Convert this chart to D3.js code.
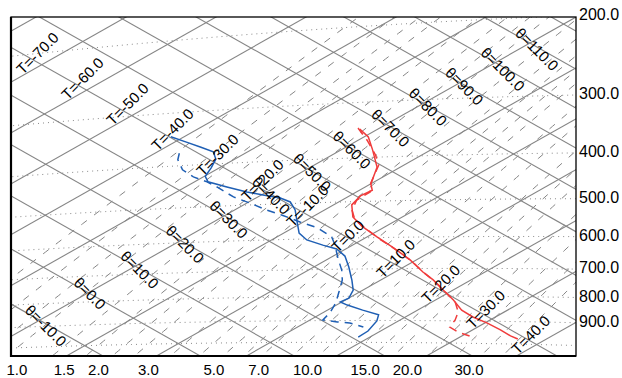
<!DOCTYPE html>
<html>
<head>
<meta charset="utf-8">
<script src="https://cdn.jsdelivr.net/npm/d3@7"></script>
<style>
  body { margin: 0; background: #fff; }
  svg { display: block; }
  text { font-family: "Liberation Sans", Arial, Helvetica, sans-serif; }
</style>
</head>
<body>
<script>
// sounding data (pressure hPa, temperature degC)
const tempP = [345, 360, 385, 421, 458, 473, 486, 508, 540, 566, 598, 632, 671, 712, 740, 777, 815, 855, 883, 908, 937, 963, 976];
const tempT = [-22.0, -19.5, -16.5, -12.6, -10.0, -8.6, -8.8, -8.0, -5.5, -2.7, 1.1, 5.1, 9.3, 13.1, 15.8, 18.9, 22.0, 24.9, 27.5, 30.3, 33.1, 35.4, 36.8];
const dewP = [341, 353, 364, 375, 390, 408, 426, 439, 453, 467, 476, 485, 496, 517, 550, 582, 603, 620, 633, 656, 693, 739, 776, 807, 822, 835, 856, 876, 902, 947, 975];
const dewT = [-41.5, -38.7, -36.2, -33.8, -32.1, -30.9, -29.9, -28.5, -25.4, -22.2, -19.8, -17.3, -15.4, -13.3, -10.7, -8.3, -6.1, -3.3, -1.0, 1.3, 3.9, 6.8, 8.9, 10.0, 9.8, 11.2, 13.9, 16.6, 17.6, 18.6, 18.7];
const temp2P = [343, 366, 396, 417, 457, 477, 496, 521, 548, 571, 601, 636, 675, 716, 747, 784, 823, 863, 896, 927, 949, 975];
const temp2T = [-22.4, -19.0, -15.1, -12.8, -10.1, -8.5, -8.4, -7.0, -4.7, -2.0, 1.4, 5.5, 9.7, 13.5, 16.4, 19.5, 22.6, 24.9, 26.1, 26.9, 28.8, 31.9];
const dew2P = [374, 387, 409, 426, 439, 452, 478, 495, 515, 530, 550, 568, 596, 620, 662, 703, 738, 783, 826, 867, 897, 906, 911, 929];
const dew2T = [-37.3, -36.2, -33.7, -31.1, -28.6, -26.5, -22.7, -19.7, -16.4, -13.7, -10.4, -7.3, -3.9, -2.0, 0.9, 3.7, 5.7, 7.7, 9.5, 10.8, 11.4, 13.4, 15.0, 17.3];

// diagram lines
const isotherms = [-100, -90, -80, -70, -60, -50, -40, -30, -20, -10, 0, 10, 20, 30, 40, 50, 60];
const adiabats = [-40, -30, -20, -10, 0, 10, 20, 30, 40, 50, 60, 70, 80, 90, 100, 110, 120, 130, 140, 150, 160];
const isobars = [200, 300, 400, 500, 600, 700, 800, 900, 1000];
const mixingRatios = [0.4, 0.6, 0.8, 1.0, 1.5, 2.0, 2.5, 3.0, 4.0, 5.0, 6.0, 7.0, 8.0, 10.0, 12.0, 15.0, 17.5, 20.0, 25.0, 30.0, 35.0, 40.0];

// labels
const mixingLabels = [1.0, 1.5, 2.0, 3.0, 5.0, 7.0, 10.0, 15.0, 20.0, 30.0];
const pressureLabels = [200, 300, 400, 500, 600, 700, 800, 900];
const tempLabels = [-70, -60, -50, -40, -30, -20, -10, 0, 10, 20, 30, 40];
const thetaLabels = [-10, 0, 10, 20, 30, 40, 50, 60, 70, 80, 90, 100, 110];

const W = 622, H = 378;
const box = { left: 11, top: 17, right: 576, bottom: 356 };

const K = 290, KAPPA = 0.2808, ZERO = 273.15;
const entropy = (th) => K * Math.log(th + ZERO);
const thetaOf = (t, p) => (t + ZERO) * Math.pow(1000 / p, KAPPA) - ZERO;
const dewOf = (w, p) => {
  const e = (p * w) / 622;
  const l = Math.log(e / 6.112);
  return (243.5 * l) / (17.67 - l);
};

// rotated tephigram axes: u = T + s, v = T - s
const x = d3.scaleLinear().domain([1589.71, 1715.27]).range([box.left, box.right]);
const y = d3.scaleLinear().domain([-1755.28, -1622.03]).range([box.top, box.bottom]);
const projTh = (t, th) => [x(t + entropy(th)), y(t - entropy(th))];
const projP = (t, p) => projTh(t, thetaOf(t, p));

const svg = d3.select("body").append("svg").attr("width", W).attr("height", H);

svg.append("clipPath").attr("id", "plot")
  .append("rect")
  .attr("x", box.left).attr("y", box.top)
  .attr("width", box.right - box.left).attr("height", box.bottom - box.top);

const grid = svg.append("g").attr("clip-path", "url(#plot)");
const line = d3.line();

// isobars (dotted)
isobars.forEach((p) => {
  const pts = d3.range(-130, 70, 1).map((t) => projP(t, p));
  grid.append("path").attr("d", line(pts))
    .attr("fill", "none").attr("stroke", "#8a8a8a").attr("stroke-width", 1)
    .attr("stroke-dasharray", "1,4");
});

// mixing ratio lines (dashed)
mixingRatios.forEach((w) => {
  const pts = d3.range(1100, 140, -10).map((p) => projP(dewOf(w, p), p));
  grid.append("path").attr("d", line(pts))
    .attr("fill", "none").attr("stroke", "#858585").attr("stroke-width", 1)
    .attr("stroke-dasharray", "7,9");
});

// isotherms
isotherms.forEach((t) => {
  const a = projTh(t, -90), b = projTh(t, 220);
  grid.append("line").attr("x1", a[0]).attr("y1", a[1]).attr("x2", b[0]).attr("y2", b[1])
    .attr("stroke", "#858585").attr("stroke-width", 1.1);
});

// dry adiabats
adiabats.forEach((th) => {
  const a = projTh(-160, th), b = projTh(80, th);
  grid.append("line").attr("x1", a[0]).attr("y1", a[1]).attr("x2", b[0]).attr("y2", b[1])
    .attr("stroke", "#858585").attr("stroke-width", 1.1);
});

// soundings
const curve = (ps, ts, color, dash) => {
  const pts = ps.map((p, i) => projP(ts[i], p));
  grid.append("path").attr("d", line(pts))
    .attr("fill", "none").attr("stroke", color).attr("stroke-width", 1.5)
    .attr("stroke-dasharray", dash);
};
curve(temp2P, temp2T, "#f03c3c", "8,6");
curve(dew2P, dew2T, "#1f5fb4", "8,6");
curve(tempP, tempT, "#f03c3c", null);
curve(dewP, dewT, "#1f5fb4", null);

// labels on lines
const lab = svg.append("g").attr("clip-path", "url(#plot)")
  .attr("font-size", 15).attr("fill", "#000");
tempLabels.forEach((t) => {
  const [px, py] = projTh(t, 35.5);
  lab.append("text").attr("transform", `translate(${px},${py}) rotate(-45)`)
    .text(`T=${t.toFixed(1)}`);
});
thetaLabels.forEach((th) => {
  const [px, py] = projTh(-23.5, th);
  lab.append("text").attr("transform", `translate(${px},${py}) rotate(45)`)
    .text(`θ=${th.toFixed(1)}`);
});

// frame
svg.append("rect")
  .attr("x", box.left).attr("y", box.top)
  .attr("width", box.right - box.left).attr("height", box.bottom - box.top)
  .attr("fill", "none").attr("stroke", "#000").attr("stroke-width", 1.3);
svg.append("path")
  .attr("d", `M${box.left},${box.top}V${box.bottom}H${box.right}`)
  .attr("fill", "none").attr("stroke", "#000").attr("stroke-width", 2.2);

// pressure labels on the right edge
const uRight = x.invert(box.right);
pressureLabels.forEach((p) => {
  let lo = -150, hi = 80;
  for (let i = 0; i < 60; i++) {
    const mid = (lo + hi) / 2;
    if (mid + entropy(thetaOf(mid, p)) < uRight) lo = mid; else hi = mid;
  }
  const py = projP(lo, p)[1];
  svg.append("text").attr("x", box.right + 3).attr("y", py)
    .attr("dominant-baseline", "middle").attr("font-size", 16)
    .text(p.toFixed(1));
});

// mixing ratio labels under the bottom edge
mixingLabels.forEach((w) => {
  const px = projP(dewOf(w, 1000), 1000)[0];
  svg.append("text").attr("x", px).attr("y", 375)
    .attr("text-anchor", "middle").attr("font-size", 15)
    .text(w.toFixed(1));
});
</script>
</body>
</html>
